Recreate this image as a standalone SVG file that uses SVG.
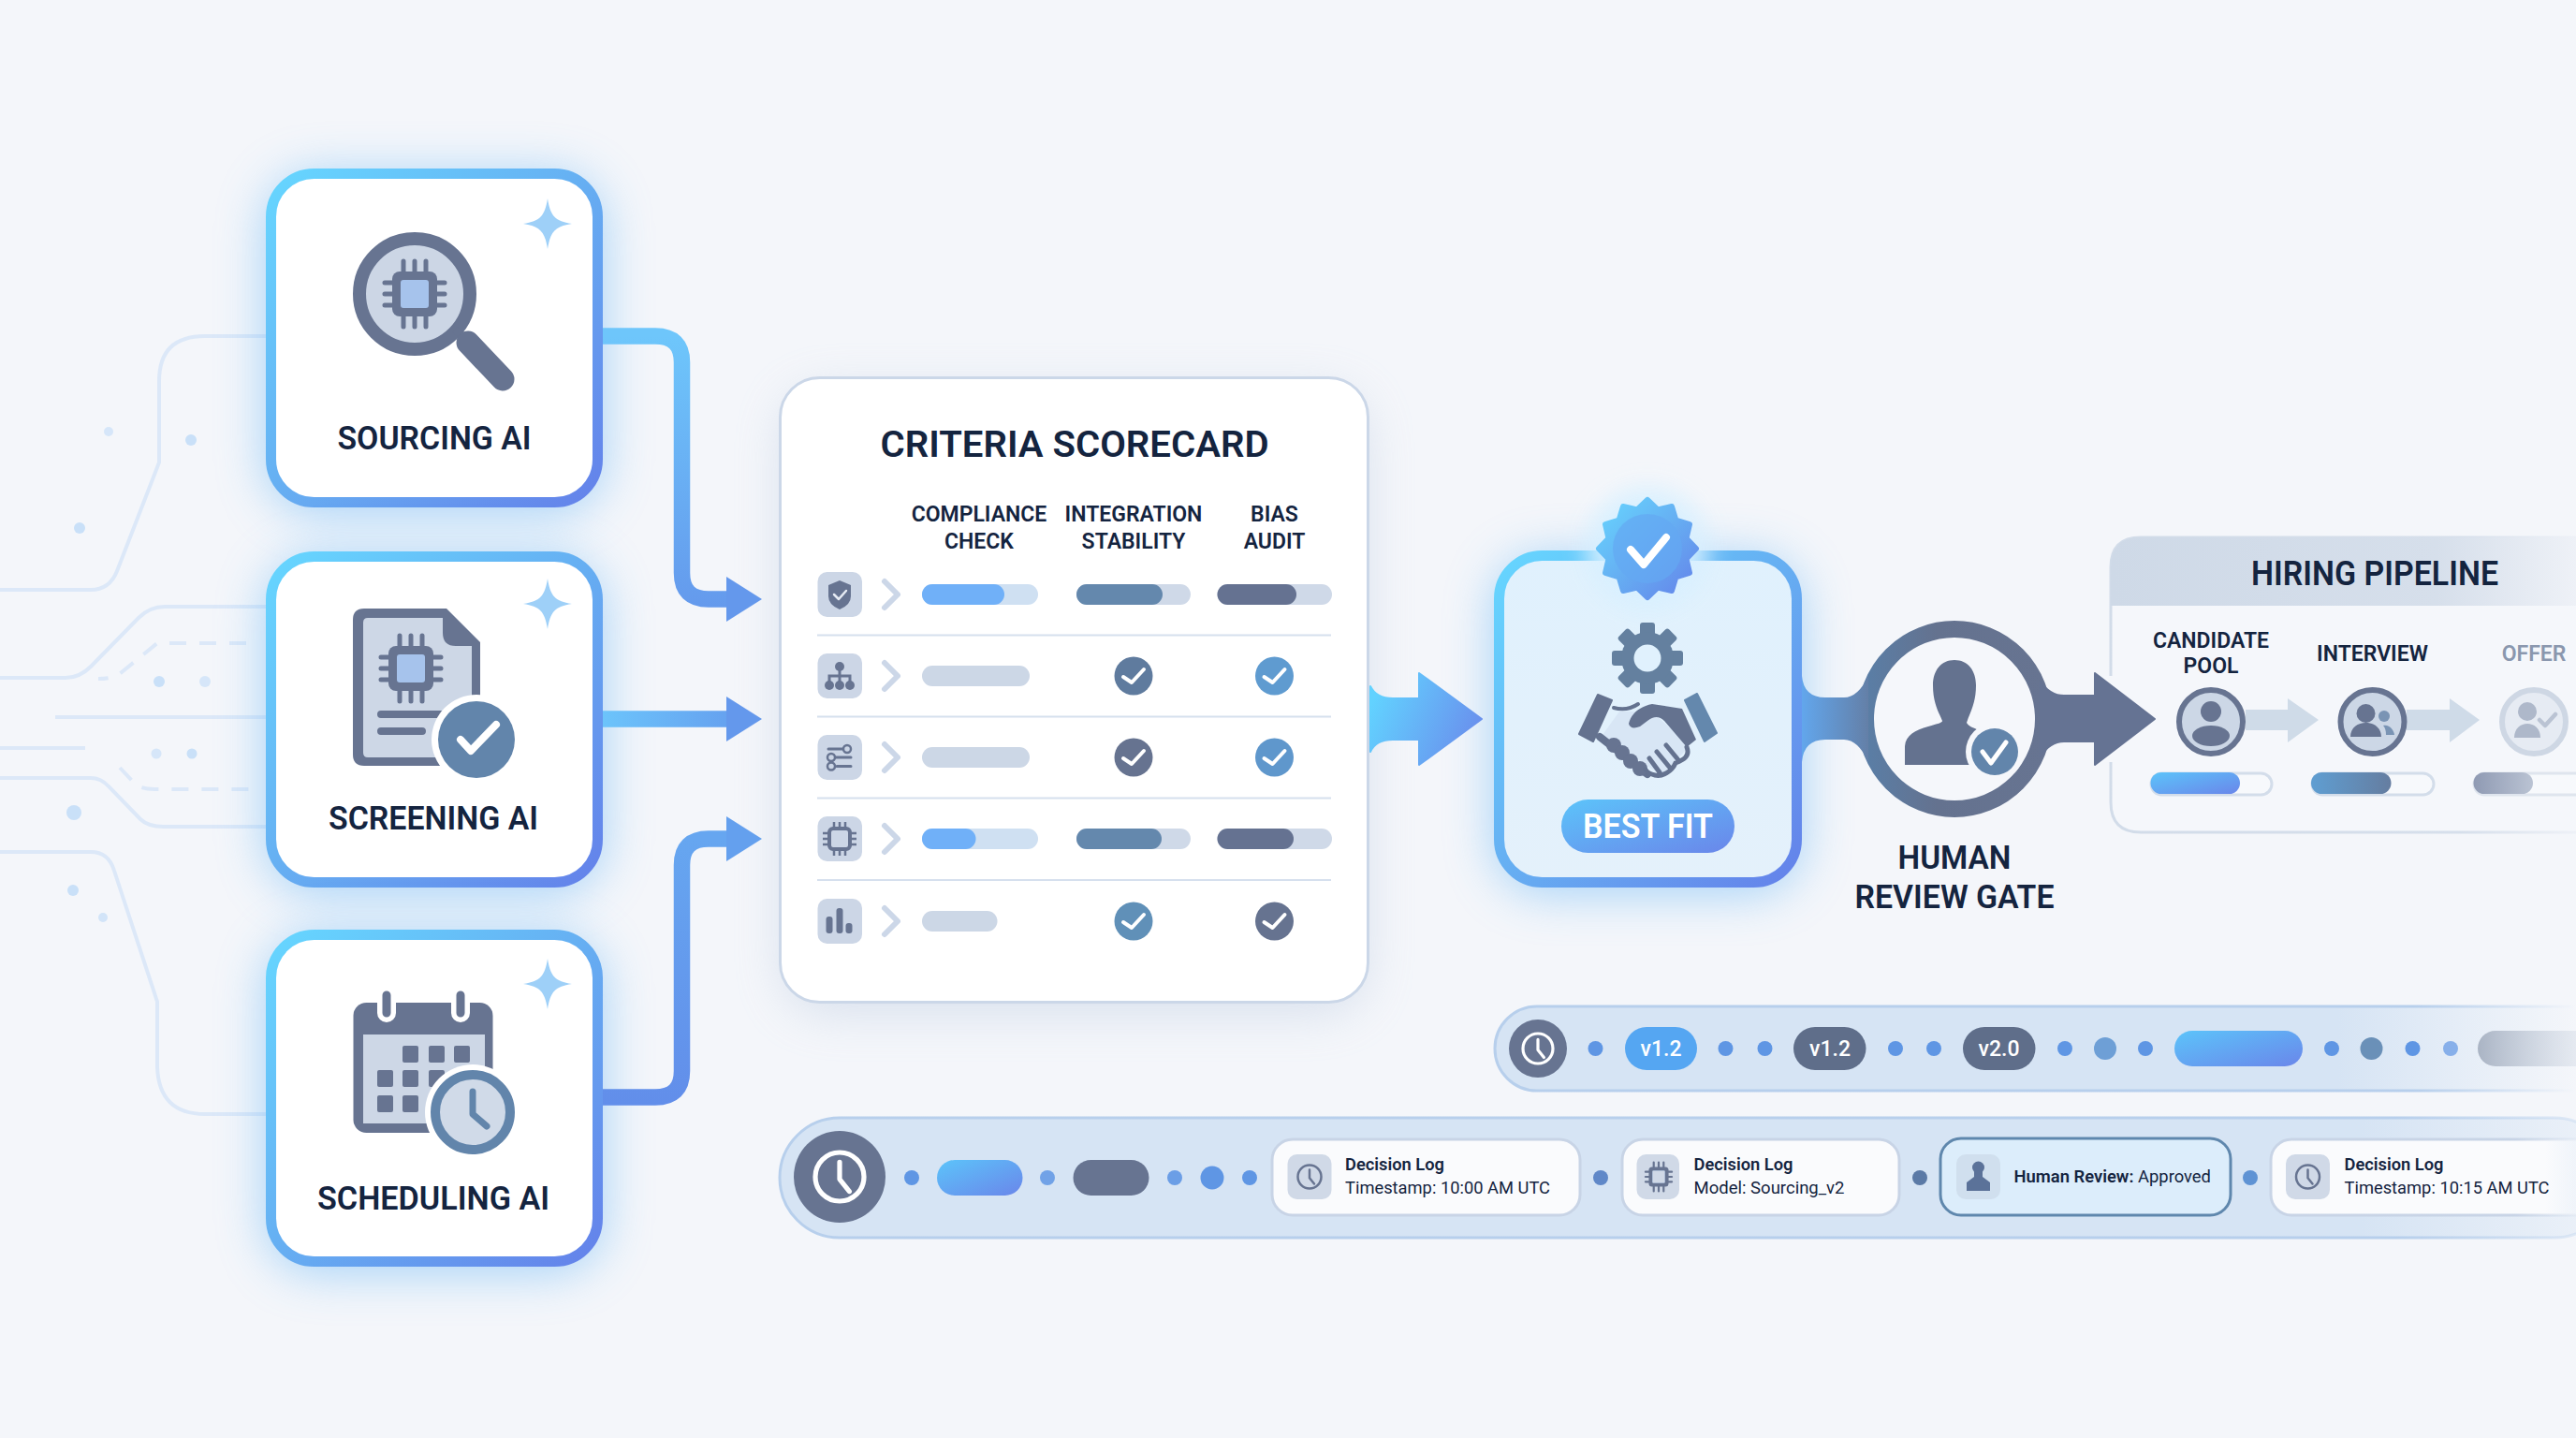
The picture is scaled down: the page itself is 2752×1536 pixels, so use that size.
<svg xmlns="http://www.w3.org/2000/svg" width="2752" height="1536" viewBox="0 0 2752 1536">
<style>
text{font-family:Roboto,"Liberation Sans",sans-serif;fill:#14243f}
.t{font-weight:600;text-anchor:middle}
.c35{font-size:35px}.c23{font-size:23px}
.bgl{fill:none;stroke:#dce8f8;stroke-width:4}
.bgd{fill:none;stroke:#dce8f8;stroke-width:4;stroke-dasharray:18 14}
.bgdot{fill:#c9e0f8}
.div{stroke:#d6e0ee;stroke-width:2}
.chev{fill:none;stroke:#ccd7e8;stroke-width:6;stroke-linecap:round;stroke-linejoin:round}
.tile{fill:#ccd6e6}
.dark{fill:#677491}
.lt{fill:#ccd7e6}
.log{fill:#fafbfd;stroke:#c8d4e6;stroke-width:3}
.lh{font-size:19px;font-weight:600}
.ls{font-size:19px}
.glow{fill:#62b4f6;opacity:.55;filter:url(#b26)}
.chk{fill:none;stroke:#fff;stroke-width:4;stroke-linecap:round;stroke-linejoin:round}
.dot{fill:#5f96e4}
</style>
<defs>
<filter id="b26" x="-40%" y="-40%" width="180%" height="180%"><feGaussianBlur stdDeviation="26"/></filter>
<filter id="b12" x="-30%" y="-30%" width="160%" height="160%"><feGaussianBlur stdDeviation="12"/></filter>
<linearGradient id="gB" x1="0" y1="0" x2="1" y2="1"><stop offset="0" stop-color="#66d6ff"/><stop offset=".5" stop-color="#66aef2"/><stop offset="1" stop-color="#6482ea"/></linearGradient>
<linearGradient id="gV" gradientUnits="userSpaceOnUse" x1="0" y1="359" x2="0" y2="660"><stop offset="0" stop-color="#6ec6fb"/><stop offset="1" stop-color="#6498ec"/></linearGradient>
<linearGradient id="gV3" gradientUnits="userSpaceOnUse" x1="0" y1="896" x2="0" y2="1180"><stop offset="0" stop-color="#66a6f0"/><stop offset="1" stop-color="#628eea"/></linearGradient>
<linearGradient id="gH" gradientUnits="userSpaceOnUse" x1="644" y1="0" x2="816" y2="0"><stop offset="0" stop-color="#6cc4fb"/><stop offset="1" stop-color="#6498ec"/></linearGradient>
<linearGradient id="gBig" gradientUnits="userSpaceOnUse" x1="1470" y1="740" x2="1583" y2="790"><stop offset="0" stop-color="#62d2ff"/><stop offset="1" stop-color="#6a8cec"/></linearGradient>
<linearGradient id="gBand" gradientUnits="userSpaceOnUse" x1="1925" y1="0" x2="2010" y2="0"><stop offset="0" stop-color="#62a6ec"/><stop offset="1" stop-color="#64789a"/></linearGradient>
<linearGradient id="gRing" x1="0" y1="0" x2="1" y2="0"><stop offset="0" stop-color="#5a7ea6"/><stop offset=".4" stop-color="#64728f"/><stop offset="1" stop-color="#677491"/></linearGradient>
<linearGradient id="gCard" x1="0" y1="0" x2="0" y2="1"><stop offset="0" stop-color="#e0f1fd"/><stop offset="1" stop-color="#e4f1fb"/></linearGradient>
<linearGradient id="gPill" x1="0" y1="0" x2="1" y2="1"><stop offset="0" stop-color="#5cc4fa"/><stop offset="1" stop-color="#6a86ea"/></linearGradient>
<linearGradient id="gHead" gradientUnits="userSpaceOnUse" x1="2255" y1="0" x2="2752" y2="0"><stop offset="0" stop-color="#ced9e7"/><stop offset=".7" stop-color="#d6dfeb"/><stop offset="1" stop-color="#eef1f7"/></linearGradient>
<linearGradient id="gPan" gradientUnits="userSpaceOnUse" x1="2255" y1="0" x2="2752" y2="0"><stop offset="0" stop-color="#d2dce9"/><stop offset=".75" stop-color="#d6dfeb"/><stop offset="1" stop-color="#eef1f7"/></linearGradient>
<linearGradient id="gP2" x1="0" y1="0" x2="1" y2="0"><stop offset="0" stop-color="#5f9ed2"/><stop offset="1" stop-color="#657da0"/></linearGradient>
<linearGradient id="gP3" x1="0" y1="0" x2="1" y2="0"><stop offset="0" stop-color="#8f9ab3"/><stop offset="1" stop-color="#bac3d3"/></linearGradient>
<linearGradient id="gVerF" gradientUnits="userSpaceOnUse" x1="1596" y1="0" x2="2752" y2="0"><stop offset="0" stop-color="#d6e4f4"/><stop offset=".78" stop-color="#d6e4f4"/><stop offset="1" stop-color="#d6e4f4" stop-opacity="0"/></linearGradient>
<linearGradient id="gVerS" gradientUnits="userSpaceOnUse" x1="1596" y1="0" x2="2752" y2="0"><stop offset="0" stop-color="#b7cfec"/><stop offset=".85" stop-color="#b7cfec"/><stop offset="1" stop-color="#b7cfec" stop-opacity="0"/></linearGradient>
<linearGradient id="gAudF" gradientUnits="userSpaceOnUse" x1="832" y1="0" x2="2752" y2="0"><stop offset="0" stop-color="#d6e4f4"/><stop offset=".88" stop-color="#d6e4f4"/><stop offset="1" stop-color="#d6e4f4" stop-opacity=".35"/></linearGradient>
<linearGradient id="gAudS" gradientUnits="userSpaceOnUse" x1="832" y1="0" x2="2752" y2="0"><stop offset="0" stop-color="#b7cfec"/><stop offset=".9" stop-color="#b7cfec"/><stop offset="1" stop-color="#b7cfec" stop-opacity=".35"/></linearGradient>
<linearGradient id="gGray" gradientUnits="userSpaceOnUse" x1="2647" y1="0" x2="2752" y2="0"><stop offset="0" stop-color="#aab4c4"/><stop offset="1" stop-color="#cfd7e3" stop-opacity=".4"/></linearGradient>
<linearGradient id="gLog4" gradientUnits="userSpaceOnUse" x1="2425" y1="0" x2="2752" y2="0"><stop offset="0" stop-color="#fafbfd"/><stop offset=".9" stop-color="#fafbfd"/><stop offset="1" stop-color="#fafbfd" stop-opacity=".4"/></linearGradient>
<linearGradient id="gLog4s" gradientUnits="userSpaceOnUse" x1="2425" y1="0" x2="2752" y2="0"><stop offset="0" stop-color="#c8d4e6"/><stop offset=".8" stop-color="#c8d4e6"/><stop offset="1" stop-color="#c8d4e6" stop-opacity=".2"/></linearGradient>
<path id="spark" d="M0,-27 C3,-8 8,-3 26,0 C8,3 3,8 0,27 C-3,8 -8,3 -26,0 C-8,-3 -3,-8 0,-27Z" fill="#9ed0f8"/>
<g id="chip">
<g stroke="#677491" stroke-width="5" stroke-linecap="round"><path d="M-12,-35V-24M0,-35V-24M12,-35V-24M-12,24V35M0,24V35M12,24V35M-32,-12H-24M-32,0H-24M-32,12H-24M24,-12H32M24,0H32M24,12H32"/></g>
<rect x="-24" y="-24" width="48" height="48" rx="8" fill="#677491"/>
<rect x="-15" y="-15" width="30" height="30" rx="3" fill="#a6c3ec"/>
</g>
<g id="clock" fill="none" stroke="currentColor" stroke-width="2" stroke-linecap="round" stroke-linejoin="round"><circle r="10"/><path d="M0,-6V1L4,6"/></g>
<path id="ck" class="chk" d="M-11,1L-2,7L11,-7"/>
</defs>

<rect width="2752" height="1536" fill="#f4f6fa"/>

<g id="background-traces">
<path class="bgl" d="M284,359H219Q170,359 170,407V494L125,610Q117,630 97,630H0"/>
<path class="bgl" d="M284,648H176Q160,648 148,660L97,712Q85,724 70,724H0"/>
<path class="bgd" d="M263,687H168L130,718Q122,725 105,725"/>
<path class="bgl" d="M59,766H284"/>
<path class="bgl" d="M0,799H91"/>
<path class="bgl" d="M0,831H97Q108,831 116,840L150,875Q158,883 175,883H284"/>
<path class="bgd" d="M128,820L145,838Q152,843 165,843H270"/>
<path class="bgl" d="M0,910H97Q116,910 122,930L168,1070V1140Q170,1190 219,1190H284"/>
<circle class="bgdot" cx="116" cy="461" r="5" opacity=".7"/><circle class="bgdot" cx="204" cy="470" r="6"/><circle class="bgdot" cx="85" cy="564" r="6"/><circle class="bgdot" cx="170" cy="728" r="6"/><circle class="bgdot" cx="219" cy="728" r="6" opacity=".7"/><circle class="bgdot" cx="167" cy="805" r="5.5" opacity=".7"/><circle class="bgdot" cx="205" cy="805" r="5.5"/><circle class="bgdot" cx="79" cy="868" r="8"/><circle class="bgdot" cx="78" cy="951" r="6"/><circle class="bgdot" cx="110" cy="980" r="5" opacity=".8"/>
</g>

<g id="node-sourcing">
<rect class="glow" x="284" y="186" width="360" height="362" rx="55"/>
<rect x="289.500" y="185.500" width="349" height="351" rx="46" fill="#fff" stroke="url(#gB)" stroke-width="11"/>
<use href="#spark" x="585" y="239"/>
<circle cx="443" cy="314" r="59" fill="#ccd6e5" stroke="#677491" stroke-width="14"/>
<path d="M486,352L498,362" stroke="#677491" stroke-width="8"/>
<path d="M500,366L537,405" stroke="#677491" stroke-width="25" stroke-linecap="round"/>
<use href="#chip" x="443" y="314"/>
<text class="t c35" x="464" y="480" textLength="207" lengthAdjust="spacingAndGlyphs">SOURCING AI</text>
</g>

<g id="node-screening">
<rect class="glow" x="284" y="595" width="360" height="359" rx="55"/>
<rect x="289.500" y="594.500" width="349" height="348" rx="46" fill="#fff" stroke="url(#gB)" stroke-width="11"/>
<use href="#spark" x="585" y="645"/>
<path d="M389,650H477L513,686V806Q513,818 501,818H389Q377,818 377,806V662Q377,650 389,650Z" fill="#677491"/>
<path d="M393,660H473V676Q473,690 487,690H504V809H393Q388,809 388,804V665Q388,660 393,660Z" fill="#cdd7e6"/>
<use href="#chip" x="439" y="714"/>
<path d="M407,763H472M407,781H451" stroke="#677491" stroke-width="8" stroke-linecap="round"/>
<circle cx="509" cy="790" r="48" fill="#fff"/>
<circle cx="509" cy="790" r="41" fill="#6285ab"/>
<path d="M492,790L503,802L530,774" fill="none" stroke="#fff" stroke-width="8" stroke-linecap="round" stroke-linejoin="round"/>
<text class="t c35" x="463" y="886" textLength="224" lengthAdjust="spacingAndGlyphs">SCREENING AI</text>
</g>

<g id="node-scheduling">
<rect class="glow" x="284" y="999" width="360" height="360" rx="55"/>
<rect x="289.500" y="998.500" width="349" height="349" rx="46" fill="#fff" stroke="url(#gB)" stroke-width="11"/>
<use href="#spark" x="585" y="1051"/>
<rect x="377.500" y="1071" width="149" height="139" rx="14" fill="#677491"/>
<rect x="388" y="1105" width="130" height="95" fill="#cdd7e6"/>
<path d="M413,1063V1082M492,1063V1082" stroke="#fff" stroke-width="20" stroke-linecap="round"/>
<path d="M413,1063V1082M492,1063V1082" stroke="#677491" stroke-width="9" stroke-linecap="round"/>
<g fill="#677491">
<rect x="430" y="1117" width="17" height="18" rx="2"/><rect x="458" y="1117" width="17" height="18" rx="2"/><rect x="485" y="1117" width="17" height="18" rx="2"/>
<rect x="403" y="1143" width="17" height="18" rx="2"/><rect x="430" y="1143" width="17" height="18" rx="2"/><rect x="458" y="1143" width="17" height="18" rx="2"/>
<rect x="403" y="1170" width="17" height="18" rx="2"/><rect x="430" y="1170" width="17" height="18" rx="2"/>
</g>
<circle cx="505" cy="1188" r="51" fill="#fff"/>
<circle cx="505" cy="1188" r="40" fill="#d0dae8" stroke="#6285ab" stroke-width="10"/>
<path d="M505,1166V1190L520,1203" fill="none" stroke="#6285ab" stroke-width="7" stroke-linecap="round" stroke-linejoin="round"/>
<text class="t c35" x="463" y="1292" textLength="248" lengthAdjust="spacingAndGlyphs">SCHEDULING AI</text>
</g>

<g id="node-scorecard">
<rect x="838" y="420" width="620" height="660" rx="44" fill="#a9bcd8" opacity=".4" filter="url(#b26)"/>
<rect x="833.500" y="403.500" width="628" height="667" rx="42" fill="#fff" stroke="#cbd7e8" stroke-width="3"/>
<text class="t" x="1148" y="488" font-size="39" textLength="415" lengthAdjust="spacingAndGlyphs">CRITERIA SCORECARD</text>
<g class="c23"><text class="t" x="1046" y="557">COMPLIANCE</text><text class="t" x="1046" y="586">CHECK</text><text class="t" x="1211" y="557">INTEGRATION</text><text class="t" x="1211" y="586">STABILITY</text><text class="t" x="1361.500" y="557">BIAS</text><text class="t" x="1361.500" y="586">AUDIT</text></g>
<path class="div" d="M873,678.500H1422M873,765.500H1422M873,852.500H1422M873,940H1422"/>
<g id="row-1">
<rect class="tile" x="873.500" y="611" width="47.500" height="48" rx="10"/>
<path d="M897,620L909,625V637Q909,646 897,651Q885,646 885,637V625Z" fill="#677491"/>
<path d="M891,635L896,640L904,631" fill="none" stroke="#e6ebf3" stroke-width="2.500" stroke-linecap="round" stroke-linejoin="round"/>
<path class="chev" d="M945,621L959,635L945,649"/>
<rect x="985" y="624" width="124" height="22" rx="11" fill="#cfe0f2"/><rect x="985" y="624" width="88" height="22" rx="11" fill="#70b0f8"/>
<rect x="1150" y="624" width="122" height="22" rx="11" fill="#cfd9e8"/><rect x="1150" y="624" width="92" height="22" rx="11" fill="#6488ad"/>
<rect x="1300.500" y="624" width="122.500" height="22" rx="11" fill="#cfd9e8"/><rect x="1300.500" y="624" width="84.500" height="22" rx="11" fill="#657291"/>
</g>
<g id="row-2">
<rect class="tile" x="873.500" y="698" width="47.500" height="48" rx="10"/>
<path d="M897,712V732M886,732V722H908V732" fill="none" stroke="#677491" stroke-width="3"/>
<circle class="dark" cx="897" cy="712" r="5"/><circle class="dark" cx="886" cy="732" r="5"/><circle class="dark" cx="897" cy="732" r="5"/><circle class="dark" cx="908" cy="732" r="5"/>
<path class="chev" d="M945,708L959,722L945,736"/>
<rect class="lt" x="985" y="711" width="115" height="22" rx="11"/>
<circle cx="1211" cy="722" r="20.500" fill="#5f7b9e"/><use href="#ck" x="1211" y="722"/>
<circle cx="1361.500" cy="722" r="20.500" fill="#5f9bd0"/><use href="#ck" x="1361.500" y="722"/>
</g>
<g id="row-3">
<rect class="tile" x="873.500" y="785" width="47.500" height="48" rx="10"/>
<path d="M885,800H903M885,809H909M894,818.500H909" fill="none" stroke="#677491" stroke-width="3" stroke-linecap="round"/>
<circle cx="905" cy="800" r="4" fill="#ccd6e6" stroke="#677491" stroke-width="2.500"/><circle cx="888" cy="809" r="4" fill="#ccd6e6" stroke="#677491" stroke-width="2.500"/><circle cx="888" cy="818.500" r="4" fill="#ccd6e6" stroke="#677491" stroke-width="2.500"/>
<path class="chev" d="M945,795L959,809L945,823"/>
<rect class="lt" x="985" y="798" width="115" height="22" rx="11"/>
<circle cx="1211" cy="809" r="20.500" fill="#667390"/><use href="#ck" x="1211" y="809"/>
<circle cx="1361.500" cy="809" r="20.500" fill="#5f97cc"/><use href="#ck" x="1361.500" y="809"/>
</g>
<g id="row-4">
<rect class="tile" x="873.500" y="872" width="47.500" height="48" rx="10"/>
<rect x="886" y="885" width="22" height="22" rx="4" fill="none" stroke="#677491" stroke-width="4"/>
<path d="M891,878V884M897,878V884M903,878V884M891,908V914M897,908V914M903,908V914M879,890H885M879,896H885M879,902H885M909,890H915M909,896H915M909,902H915" stroke="#677491" stroke-width="2.500"/>
<path class="chev" d="M945,882L959,896L945,910"/>
<rect x="985" y="885" width="124" height="22" rx="11" fill="#cfe0f2"/><rect x="985" y="885" width="57.500" height="22" rx="11" fill="#70b0f8"/>
<rect x="1150" y="885" width="122" height="22" rx="11" fill="#cfd9e8"/><rect x="1150" y="885" width="91" height="22" rx="11" fill="#6488ad"/>
<rect x="1300.500" y="885" width="122.500" height="22" rx="11" fill="#cfd9e8"/><rect x="1300.500" y="885" width="81.500" height="22" rx="11" fill="#657291"/>
</g>
<g id="row-5">
<rect class="tile" x="873.500" y="960" width="47.500" height="48" rx="10"/>
<rect class="dark" x="882.500" y="979" width="7" height="18" rx="3"/><rect class="dark" x="893.500" y="970" width="7" height="27" rx="3"/><rect class="dark" x="903.500" y="986" width="7" height="11" rx="3"/>
<path class="chev" d="M945,970L959,984L945,998"/>
<rect class="lt" x="985" y="973" width="80.500" height="22" rx="11"/>
<circle cx="1211" cy="984" r="20.500" fill="#6090b8"/><use href="#ck" x="1211" y="984"/>
<circle cx="1361.500" cy="984" r="20.500" fill="#667390"/><use href="#ck" x="1361.500" y="984"/>
</g>
</g>

<g id="node-best-fit">
<rect class="glow" x="1596" y="594" width="329" height="360" rx="55"/>
<rect x="1601.500" y="593.500" width="318" height="349" rx="46" fill="url(#gCard)" stroke="url(#gB)" stroke-width="11"/>
<circle cx="1760" cy="586" r="66" fill="#d8f0ff" opacity=".9" filter="url(#b12)"/>
<polygon transform="translate(1760,586)" points="0,-52 11,-41.500 26,-45 30.400,-30.400 45,-26 41.500,-11 52,0 41.500,11 45,26 30.400,30.400 26,45 11,41.500 0,52 -11,41.500 -26,45 -30.400,30.400 -45,26 -41.500,11 -52,0 -41.500,-11 -45,-26 -30.400,-30.400 -26,-45 -11,-41.500" fill="url(#gB)" stroke="url(#gB)" stroke-width="6" stroke-linejoin="round"/>
<circle cx="1760" cy="586" r="37" fill="#64a8f2" opacity=".7"/>
<path d="M1742,587L1756,603L1780,574" fill="none" stroke="#fff" stroke-width="8" stroke-linecap="round" stroke-linejoin="round"/>
<g transform="translate(1760,703)" fill="#64809f">
<rect x="-8" y="-38" width="16" height="76" rx="3"/><rect x="-8" y="-38" width="16" height="76" rx="3" transform="rotate(45)"/><rect x="-8" y="-38" width="16" height="76" rx="3" transform="rotate(90)"/><rect x="-8" y="-38" width="16" height="76" rx="3" transform="rotate(135)"/>
<circle r="28"/><circle r="14.500" fill="#e0f1fd"/>
</g>
<g id="handshake">
<path d="M1707,742L1722,748L1702,792L1687,784Z" fill="#64728f" stroke="#64728f" stroke-width="2" stroke-linejoin="round"/>
<path d="M1813,741L1834,783L1821,792L1800,748Z" fill="#6488ad" stroke="#6488ad" stroke-width="2" stroke-linejoin="round"/>
<path d="M1724,756Q1738,760 1750,752" fill="none" stroke="#64728f" stroke-width="4" stroke-linecap="round"/>
<path d="M1730,760L1765,760L1805,797L1775,828L1755,815L1712,785Z" fill="#d8e6f5"/>
<path d="M1740,773C1742,764 1750,755 1765,752L1797,757L1812,790L1802,798L1778,770Q1770,762 1760,770L1752,776Q1742,780 1740,773Z" fill="#64728f"/>
<path d="M1709,787L1760,827" stroke="#64728f" stroke-width="8" stroke-linecap="round"/>
<g class="dark"><circle cx="1724" cy="796" r="8"/><circle cx="1733" cy="804" r="8"/><circle cx="1742" cy="813" r="8"/><circle cx="1752" cy="821" r="8"/></g>
<path d="M1802,798C1806,808 1798,812 1790,815C1786,824 1776,830 1768,828Q1760,826 1758,822M1770,803L1784,820M1780,796L1794,813M1762,810L1773,825" fill="none" stroke="#64728f" stroke-width="5" stroke-linecap="round"/>
</g>
<rect x="1668" y="854" width="185" height="57" rx="28.500" fill="url(#gPill)"/>
<text class="t" x="1760.500" y="895" font-size="36" style="fill:#fff" textLength="139" lengthAdjust="spacingAndGlyphs">BEST FIT</text>
</g>

<g id="node-human-gate">
<ellipse cx="2088" cy="768" rx="95" ry="96" fill="#f5f7fb" stroke="url(#gRing)" stroke-width="18"/>
<path d="M2088,705C2102,705 2111,716 2111,732C2111,752 2104,762 2101,772C2103,776 2108,777 2114,780L2110,817L2035,817L2035,797C2036,785 2046,780 2060,776C2070,773 2075,772 2075,770C2072,762 2065,752 2065,732C2065,716 2074,705 2088,705Z" fill="#64728f"/>
<circle cx="2131" cy="803" r="31" fill="#f5f7fb"/>
<circle cx="2131" cy="803" r="25" fill="#6285ab"/>
<path d="M2118,803L2127,815L2143,793" fill="none" stroke="#fff" stroke-width="5" stroke-linecap="round" stroke-linejoin="round"/>
<text class="t" x="2088" y="928" font-size="35" textLength="121" lengthAdjust="spacingAndGlyphs">HUMAN</text>
<text class="t" x="2088" y="970" font-size="35" textLength="213" lengthAdjust="spacingAndGlyphs">REVIEW GATE</text>
</g>

<g id="node-pipeline">
<path d="M2800,574H2287Q2255,574 2255,606V857Q2255,889 2287,889H2800Z" fill="#f5f7fb" stroke="url(#gPan)" stroke-width="3"/>
<path d="M2800,574H2287Q2255,574 2255,606V647H2800Z" fill="url(#gHead)"/>
<text class="t" x="2537" y="625" font-size="36" textLength="264" lengthAdjust="spacingAndGlyphs">HIRING PIPELINE</text>
<text class="t c23" x="2362" y="692">CANDIDATE</text><text class="t c23" x="2362" y="719">POOL</text>
<text class="t c23" x="2534.500" y="706">INTERVIEW</text>
<text class="t c23" x="2707" y="706" style="fill:#8a97ae">OFFER</text>
<path d="M2399,758H2444V746L2477,769L2444,793V780H2399ZM2571,758H2617V746L2649,769L2617,793V780H2571Z" fill="#cfdbe8"/>
<circle cx="2362" cy="771" r="34" fill="#ccd7e6" stroke="#677491" stroke-width="6"/>
<circle class="dark" cx="2362" cy="760" r="11"/><ellipse class="dark" cx="2362" cy="786" rx="20" ry="11"/>
<circle cx="2534.500" cy="771" r="34" fill="#ccd7e6" stroke="#677491" stroke-width="6"/>
<circle class="dark" cx="2527.500" cy="762" r="10"/><path class="dark" d="M2511,787C2511,767 2544,767 2544,787Z"/>
<circle cx="2547" cy="765" r="6" fill="#7a94b4"/><path d="M2546,775C2552,773 2558,780 2558,785H2549Q2549,778 2546,775Z" fill="#7a94b4"/>
<circle cx="2707" cy="771" r="34" fill="#e6ebf3" stroke="#ced7e4" stroke-width="6"/>
<circle cx="2700" cy="760" r="10" fill="#aeb8ca"/><path d="M2686,788C2686,768 2714,768 2714,788Z" fill="#aeb8ca"/>
<path d="M2713,769L2719,775L2730,763" fill="none" stroke="#bac3d3" stroke-width="4.500" stroke-linecap="round" stroke-linejoin="round"/>
<rect x="2298" y="826" width="129" height="23" rx="11.500" fill="#f7f9fc" stroke="#d3ddea" stroke-width="3"/>
<rect x="2297.500" y="825" width="95.500" height="23" rx="11.500" fill="url(#gPill)"/>
<rect x="2470" y="826" width="130" height="23" rx="11.500" fill="#f7f9fc" stroke="#d3ddea" stroke-width="3"/>
<rect x="2469" y="825" width="85.500" height="23" rx="11.500" fill="url(#gP2)"/>
<rect x="2643" y="826" width="150" height="23" rx="11.500" fill="#f7f9fc" stroke="#dfe5ee" stroke-width="3"/>
<rect x="2642.500" y="825" width="63.500" height="23" rx="11.500" fill="url(#gP3)"/>
</g>

<g id="node-version-strip">
<rect x="1597" y="1075" width="1200" height="90" rx="45" fill="url(#gVerF)" stroke="url(#gVerS)" stroke-width="3"/>
<circle class="dark" cx="1643" cy="1120" r="31"/>
<use href="#clock" transform="translate(1643,1120) scale(1.6)" style="color:#fff"/>
<g class="dot"><circle cx="1704.500" cy="1120" r="8"/><circle cx="1843.500" cy="1120" r="8"/><circle cx="1885.500" cy="1120" r="8"/><circle cx="2025" cy="1120" r="8"/><circle cx="2066" cy="1120" r="8"/><circle cx="2206" cy="1120" r="8"/><circle cx="2292" cy="1120" r="8"/><circle cx="2491" cy="1120" r="8"/><circle cx="2577.500" cy="1120" r="8"/><circle cx="2618" cy="1120" r="8" opacity=".7"/></g>
<circle cx="2249" cy="1120" r="12" fill="#6e9fd6"/><circle cx="2533.500" cy="1120" r="12" fill="#6a90b8"/>
<rect x="1736" y="1097" width="77" height="46" rx="23" fill="#55a6f2"/><text x="1774.500" y="1127.500" font-size="23" font-weight="500" text-anchor="middle" style="fill:#fff" textLength="44" lengthAdjust="spacingAndGlyphs">v1.2</text>
<rect x="1916" y="1097" width="77.500" height="46" rx="23" fill="#5f6e8a"/><text x="1955" y="1127.500" font-size="23" font-weight="500" text-anchor="middle" style="fill:#fff" textLength="44" lengthAdjust="spacingAndGlyphs">v1.2</text>
<rect x="2097" y="1097" width="77.500" height="46" rx="23" fill="#5f6e8a"/><text x="2135.500" y="1127.500" font-size="23" font-weight="500" text-anchor="middle" style="fill:#fff" textLength="44" lengthAdjust="spacingAndGlyphs">v2.0</text>
<rect x="2323" y="1101" width="137" height="38" rx="19" fill="url(#gPill)"/>
<rect x="2647" y="1101" width="130" height="38" rx="19" fill="url(#gGray)"/>
</g>

<g id="node-audit-strip">
<rect x="833" y="1194" width="1960" height="128" rx="64" fill="url(#gAudF)" stroke="url(#gAudS)" stroke-width="3"/>
<circle class="dark" cx="897" cy="1257" r="49"/>
<use href="#clock" transform="translate(897,1257) scale(2.6)" style="color:#fff"/>
<g class="dot"><circle cx="974" cy="1258" r="8"/><circle cx="1119" cy="1258" r="8" opacity=".85"/><circle cx="1255" cy="1258" r="8" opacity=".9"/><circle cx="1295" cy="1258" r="12.500"/><circle cx="1335" cy="1258" r="8"/></g>
<rect x="1001" y="1239" width="91.500" height="38" rx="19" fill="url(#gPill)"/>
<rect x="1146.500" y="1239" width="81" height="38" rx="19" fill="#677491"/>
<g id="log-1">
<rect class="log" x="1359" y="1217" width="329" height="81" rx="22"/>
<rect x="1375.500" y="1233" width="47" height="48" rx="10" fill="#d0d9e7"/>
<use href="#clock" transform="translate(1399,1257) scale(1.25)" style="color:#677491"/>
<text class="lh" x="1437" y="1250" textLength="106" lengthAdjust="spacingAndGlyphs">Decision Log</text><text class="ls" x="1437" y="1275" textLength="219" lengthAdjust="spacingAndGlyphs">Timestamp: 10:00 AM UTC</text>
</g>
<circle cx="1710" cy="1258" r="8" fill="#6088c8"/>
<g id="log-2">
<rect class="log" x="1733" y="1217" width="296" height="81" rx="22"/>
<rect x="1748.500" y="1233" width="45.500" height="48" rx="10" fill="#d0d9e7"/>
<use href="#chip" transform="translate(1772,1257) scale(.44)"/>
<rect x="1765.500" y="1250.500" width="13" height="13" fill="#d0d9e7"/>
<text class="lh" x="1809.500" y="1250" textLength="106" lengthAdjust="spacingAndGlyphs">Decision Log</text><text class="ls" x="1809.500" y="1275" textLength="161" lengthAdjust="spacingAndGlyphs">Model: Sourcing_v2</text>
</g>
<circle cx="2051" cy="1258" r="8" fill="#5b7aa6"/>
<g id="log-3">
<rect x="2073" y="1216" width="310" height="82" rx="22" fill="#dcedfb" stroke="#5f87ad" stroke-width="3"/>
<rect x="2090" y="1233" width="47" height="48" rx="10" fill="#d0dfee"/>
<circle cx="2113.500" cy="1247" r="6.500" fill="#5b7299"/><path d="M2109,1251H2118V1257L2126,1263V1272H2101V1263L2109,1257Z" fill="#5b7299"/>
<text x="2151.500" y="1263" font-size="18.400"><tspan font-weight="600">Human Review:</tspan> Approved</text>
</g>
<circle cx="2404" cy="1258" r="8" fill="#5f93d4"/>
<g id="log-4">
<rect x="2426" y="1217" width="360" height="81" rx="22" fill="url(#gLog4)" stroke="url(#gLog4s)" stroke-width="3"/>
<rect x="2442" y="1233" width="47" height="48" rx="10" fill="#d0d9e7"/>
<use href="#clock" transform="translate(2465.500,1257) scale(1.25)" style="color:#677491"/>
<text class="lh" x="2504.500" y="1250" textLength="106" lengthAdjust="spacingAndGlyphs">Decision Log</text><text class="ls" x="2504.500" y="1275" textLength="219" lengthAdjust="spacingAndGlyphs">Timestamp: 10:15 AM UTC</text>
</g>
</g>

<g id="connectors" fill="none">
<path d="M644,359H700Q728.500,359 728.500,387V612Q728.500,640 757,640H785" stroke="url(#gV)" stroke-width="17.500"/>
<polygon points="776,616 814,640 776,664" fill="#6498ec"/>
<path d="M644,768H785" stroke="url(#gH)" stroke-width="17.500"/>
<polygon points="776,744 814,768 776,792" fill="#6498ec"/>
<path d="M644,1172H700Q728.500,1172 728.500,1144V924Q728.500,896 757,896H785" stroke="url(#gV3)" stroke-width="17.500"/>
<polygon points="776,872 814,896 776,920" fill="#64a0ee"/>
<path d="M1464,733Q1470,746 1488,746H1516V719L1583,768L1516,817V790H1488Q1470,790 1464,803Z" fill="url(#gBig)" stroke="url(#gBig)" stroke-width="2" stroke-linejoin="round"/>
<path d="M1925,722Q1927,745 1950,745H1970Q1985,745 1996,722V814Q1985,790 1970,790H1950Q1927,790 1925,814Z" fill="url(#gBand)"/>
<rect x="2248" y="722" width="12" height="92" fill="#f5f7fb"/>
<path d="M2180,728Q2190,743 2205,743H2238V719L2302,768L2238,817V792H2205Q2190,792 2180,808Z" fill="#657393" stroke="#657393" stroke-width="2" stroke-linejoin="round"/>
</g>
</svg>
